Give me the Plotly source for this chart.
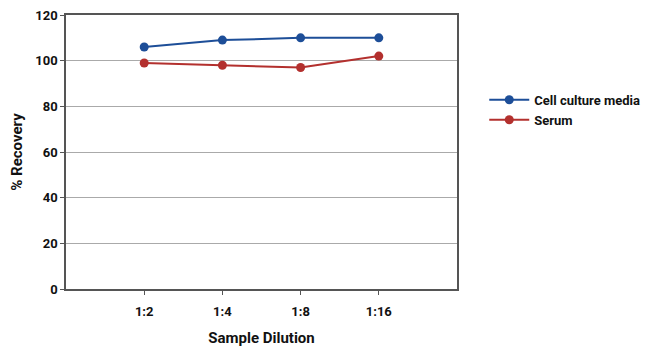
import plotly.graph_objects as go

categories = ["1:2", "1:4", "1:8", "1:16"]
x_pos = [1, 2, 3, 4]
cell_culture = [106, 109, 110, 110]
serum = [99, 98, 97, 102]
y_ticks = [0, 20, 40, 60, 80, 100, 120]

FONT = "Roboto, Lato, sans-serif"

fig = go.Figure()
fig.add_trace(go.Scatter(x=x_pos, y=cell_culture, mode="lines+markers", name="Cell culture media",
                         line=dict(color="#1d4e98", width=2), marker=dict(size=9, color="#1d4e98")))
fig.add_trace(go.Scatter(x=x_pos, y=serum, mode="lines+markers", name="Serum",
                         line=dict(color="#b3302e", width=2), marker=dict(size=9, color="#b3302e")))

fig.update_layout(
    width=650, height=358,
    margin=dict(l=66, r=193, t=15, b=69),
    paper_bgcolor="white", plot_bgcolor="white",
    font=dict(family=FONT, size=13, color="#111"),
    showlegend=True,
    legend=dict(xref="container", yref="container", x=0.745, y=0.763, xanchor="left", yanchor="top",
                bgcolor="rgba(0,0,0,0)",
                font=dict(family=FONT, size=13, color="#111", weight="bold"), tracegroupgap=0,
                itemwidth=40),
    xaxis=dict(range=[0, 5], tickvals=x_pos, ticktext=categories, showgrid=False, zeroline=False,
               showline=True, linecolor="#555", linewidth=1.5, mirror=True, automargin=False,
               ticks="outside", ticklen=4, tickcolor="#555", ticklabelstandoff=6,
               tickfont=dict(family=FONT, size=13, weight="bold"),
               title=dict(text="Sample Dilution", font=dict(family=FONT, size=15, weight="bold"), standoff=14)),
    yaxis=dict(range=[0, 120], tickvals=y_ticks, showgrid=True, gridcolor="#aaaaaa", gridwidth=1,
               zeroline=False, showline=True, linecolor="#555", linewidth=1.5, mirror=True, automargin=False,
               ticks="outside", ticklen=4, tickcolor="#555",
               tickfont=dict(family=FONT, size=13, weight="bold"),
               title=dict(text="% Recovery", font=dict(family=FONT, size=15, weight="bold"), standoff=9)),
)

fig.write_html("out.html", config={"displayModeBar": False, "responsive": False},
               post_script="document.body.style.margin='0';document.documentElement.style.overflow='hidden';document.body.style.overflow='hidden';")
